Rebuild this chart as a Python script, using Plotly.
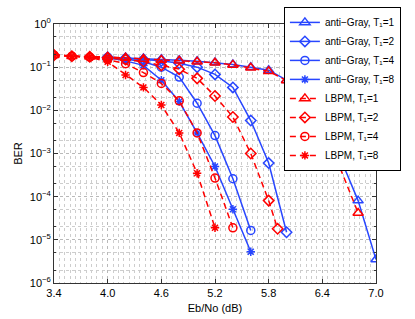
import plotly.graph_objects as go

# ---- data (Eb/No in dB, BER) ----
ag1_x = [4.0, 4.2, 4.4, 4.6, 4.8, 5.0, 5.2, 5.4, 5.6, 5.8, 6.0, 6.2, 6.4, 6.6, 6.8, 7.0]
ag1_y = [0.17, 0.165, 0.16, 0.152, 0.145, 0.138, 0.128, 0.115, 0.1, 0.085, 0.05, 0.022, 6e-3, 8e-4, 8.1e-5, 3.5e-6]

ag2_x = [4.0, 4.2, 4.4, 4.6, 4.8, 5.0, 5.2, 5.4, 5.6, 5.8, 6.0]
ag2_y = [0.17, 0.16, 0.15, 0.14, 0.123, 0.1, 0.068, 0.034, 5.8e-3, 6e-4, 1.5e-5]

ag4_x = [4.0, 4.2, 4.4, 4.6, 4.8, 5.0, 5.2, 5.4, 5.6]
ag4_y = [0.168, 0.155, 0.134, 0.10, 0.059, 0.0146, 2.6e-3, 2.6e-4, 1.65e-5]

ag8_x = [4.0, 4.2, 4.4, 4.6, 4.8, 5.0, 5.2, 5.4, 5.6]
ag8_y = [0.165, 0.14, 0.11, 0.05, 0.016, 3e-3, 5e-4, 5.1e-5, 5.3e-6]

lb1_x = [3.4, 3.6, 3.8, 4.0, 4.2, 4.4, 4.6, 4.8, 5.0, 5.2, 5.4, 5.6, 5.8, 6.0, 6.2, 6.4, 6.6, 6.8]
lb1_y = [0.19, 0.18, 0.175, 0.172, 0.165, 0.155, 0.147, 0.141, 0.134, 0.127, 0.113, 0.097, 0.08, 0.049, 0.02, 5e-3, 4.6e-4, 4.2e-5]

lb2_x = [3.4, 3.6, 3.8, 4.0, 4.2, 4.4, 4.6, 4.8, 5.0, 5.2, 5.4, 5.6, 5.8, 5.9]
lb2_y = [0.19, 0.18, 0.175, 0.165, 0.15, 0.135, 0.11, 0.09, 0.055, 0.0215, 7e-3, 1.0e-3, 8.1e-5, 1.8e-5]

lb4_x = [3.4, 3.6, 3.8, 4.0, 4.2, 4.4, 4.6, 4.8, 5.0, 5.2, 5.4]
lb4_y = [0.19, 0.18, 0.17, 0.15, 0.12, 0.075, 0.042, 0.0166, 3e-3, 2.7e-4, 1.9e-5]

lb8_x = [3.4, 3.6, 3.8, 4.0, 4.2, 4.4, 4.6, 4.8, 5.0, 5.2]
lb8_y = [0.19, 0.18, 0.17, 0.134, 0.066, 0.034, 0.0133, 3e-3, 3.5e-4, 1.9e-5]

names = ["anti\u2212Gray, T\u2081=1", "anti\u2212Gray, T\u2081=2",
         "anti\u2212Gray, T\u2081=4", "anti\u2212Gray, T\u2081=8",
         "LBPM, T\u2081=1", "LBPM, T\u2081=2",
         "LBPM, T\u2081=4", "LBPM, T\u2081=8"]

x_ticks = [3.4, 4.0, 4.6, 5.2, 5.8, 6.4, 7.0]
y_ticks = [1e-6, 1e-5, 1e-4, 1e-3, 1e-2, 1e-1, 1e0]
y_ticktext = ["10<sup>\u22126</sup>", "10<sup>\u22125</sup>", "10<sup>\u22124</sup>",
              "10<sup>\u22123</sup>", "10<sup>\u22122</sup>", "10<sup>\u22121</sup>", "10<sup>0</sup>"]

BLUE = "rgb(40,70,255)"
RED = "rgb(255,0,0)"
FONT = "Liberation Sans, Arial, Helvetica, sans-serif"

series = [
    (ag1_x, ag1_y, BLUE, "solid", "triangle-up-open", 9),
    (ag2_x, ag2_y, BLUE, "solid", "diamond-open", 8),
    (ag4_x, ag4_y, BLUE, "solid", "circle-open", 8),
    (ag8_x, ag8_y, BLUE, "solid", "asterisk-open", 7),
    (lb1_x, lb1_y, RED, "6px,4px", "triangle-up-open", 9),
    (lb2_x, lb2_y, RED, "6px,4px", "diamond-open", 8),
    (lb4_x, lb4_y, RED, "6px,4px", "circle-open", 8),
    (lb8_x, lb8_y, RED, "6px,4px", "asterisk-open", 7),
]

fig = go.Figure()
for (xs, ys, col, dash, sym, sz), nm in zip(series, names):
    fig.add_trace(go.Scatter(
        x=xs, y=ys, name=nm, mode="lines+markers",
        line=dict(color=col, width=1.5, dash=dash),
        marker=dict(symbol=sym, size=sz, color=col, line=dict(color=col, width=1.5)),
    ))

grid_col = "rgb(185,185,185)"
minor_col = "rgb(205,205,205)"
fig.update_layout(
    width=415, height=319,
    margin=dict(l=54, r=39, t=24, b=36, autoexpand=False),
    paper_bgcolor="white", plot_bgcolor="white",
    font=dict(family=FONT, size=11, color="black"),
    showlegend=True,
    legend=dict(
        x=0.714, y=1.066, xanchor="left", yanchor="top",
        bgcolor="white", bordercolor="black", borderwidth=1,
        font=dict(family=FONT, size=10, color="black"),
        itemwidth=30, tracegroupgap=0, maxheight=400,
    ),
    xaxis=dict(
        range=[3.4, 7.0], tickvals=x_ticks, ticktext=[f"{v:.1f}" for v in x_ticks],
        showline=True, linecolor="#333", linewidth=1, mirror="ticks",
        ticks="inside", ticklen=4, tickcolor="#333",
        showgrid=True, gridcolor=grid_col, griddash="dot", gridwidth=1,
        minor=dict(dtick=0.06, tick0=3.4, showgrid=True, gridcolor=minor_col,
                   griddash="dot", gridwidth=1, ticks=""),
        zeroline=False,
        title=dict(text="Eb/No (dB)", standoff=6, font=dict(size=11)),
    ),
    yaxis=dict(
        type="log", range=[-6, 0], tickvals=y_ticks, ticktext=y_ticktext,
        showline=True, linecolor="#333", linewidth=1, mirror="ticks",
        ticks="inside", ticklen=4, tickcolor="#333",
        showgrid=True, gridcolor=grid_col, griddash="dot", gridwidth=1,
        minor=dict(showgrid=True, gridcolor=minor_col, griddash="dot",
                   gridwidth=1, ticks="inside", ticklen=2, tickcolor="#333"),
        zeroline=False,
        title=dict(text="BER", standoff=4, font=dict(size=11)),
    ),
)

fig.write_html("out.html", config={"displayModeBar": False},
               post_script="document.body.style.margin='0px';")
